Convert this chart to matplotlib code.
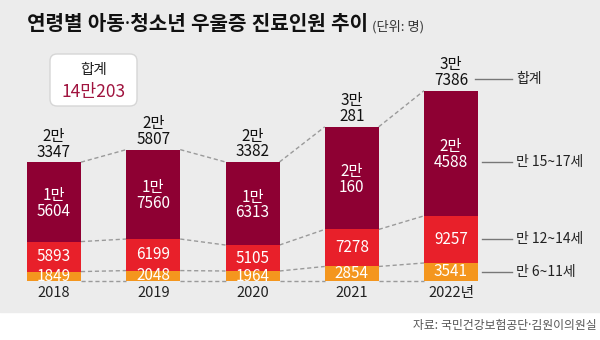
import matplotlib.pyplot as plt
from matplotlib.patches import Rectangle, FancyBboxPatch
from matplotlib.transforms import IdentityTransform

plt.rcParams['font.family'] = ['Noto Sans CJK KR', 'DejaVu Sans']
NARROW_DOT = ['Noto Sans', 'Noto Sans CJK KR']  # half-width "·" in headings

years = ['2018', '2019', '2020', '2021', '2022년']
age_6_11 = [1849, 2048, 1964, 2854, 3541]
age_12_14 = [5893, 6199, 5105, 7278, 9257]
age_15_17 = [15604, 17560, 16313, 20160, 24588]
totals = [23347, 25807, 23382, 30281, 37386]
group_names = ['만 6~11세', '만 12~14세', '만 15~17세', '합계']

CRIMSON = '#8e0033'
RED = '#e8202a'
ORANGE = '#f4961e'
BG = '#ececec'
DASH = '#9a9a9a'


def man(n):
    # 23347 -> '2만\n3347'
    if n >= 10000:
        return f'{n // 10000}만\n{n % 10000}'
    return f'{n}'


W, H = 600, 340
fig = plt.figure(figsize=(W / 100, H / 100), dpi=100)
fig.patch.set_facecolor('white')
ax = fig.add_axes([0, 0, 1, 1])
ax.axis('off')

# pixel geometry of the plot area
step = 99.25          # px between bar centres
x0 = 54               # px of first bar centre
base = 281            # px from top of the zero line
ppp = 0.00509         # px per person
ax.set_xlim(-x0 / step, (W - x0) / step)
ax.set_ylim(-(H - base) / ppp, base / ppp)
ax.add_patch(Rectangle((0, 28 / H), 1, 1, transform=ax.transAxes,
                       color=BG, zorder=0))

w = 54 / step
xs = list(range(len(years)))
low = age_6_11
mid = [a + b for a, b in zip(age_6_11, age_12_14)]
top = [a + b for a, b in zip(mid, age_15_17)]

ax.bar(xs, age_6_11, w, color=ORANGE, zorder=2)
ax.bar(xs, age_12_14, w, bottom=low, color=RED, zorder=2)
ax.bar(xs, age_15_17, w, bottom=mid, color=CRIMSON, zorder=2)

# dashed links between neighbouring bars
for level in ([0] * len(xs), low, mid, top):
    for i in xs[:-1]:
        ax.plot([i + w / 2, i + 1 - w / 2], [level[i], level[i + 1]],
                color=DASH, lw=1, ls=(0, (3, 2)), zorder=1)

pt = 0.72  # points per pixel


def put(x, y, s, dy_px, **kw):
    kw.setdefault('fontsize', 11)
    ax.annotate(s, (x, y), xytext=(0, dy_px * pt), textcoords='offset points',
                ha='center', va='center', zorder=3, linespacing=0.92,
                multialignment='center', **kw)


for i in xs:
    put(i, low[i] / 2, man(age_6_11[i]), 0, color='white')
    put(i, low[i] + age_12_14[i] / 2, man(age_12_14[i]), 0, color='white')
    put(i, mid[i] + age_15_17[i] / 2, man(age_15_17[i]), -1.5, color='white')
    put(i, top[i], man(totals[i]), 18, color='#111111')
    put(i, 0, years[i], -12, color='#222222', fontsize=10.5)

# right-hand legend lines for the last bar
last = xs[-1]
xl_end = (512 - x0) / step
xl_txt = (516 - x0) / step
xl_start = last + w / 2 + 4 / step
legend_y = [
    (low[last] / 2, 0, xl_start),
    (low[last] + age_12_14[last] / 2, 0, xl_start),
    (mid[last] + age_15_17[last] / 2, 9, xl_start),
    (top[last], -12, (475 - x0) / step),
]
for name, (y, off, xs_) in zip(group_names, legend_y):
    yy = y - off / ppp
    ax.plot([xs_, xl_end], [yy, yy], color='#777777', lw=1, zorder=3)
    ax.text(xl_txt, yy, name, ha='left', va='center', fontsize=10,
            color='#222222')

# grand total box
box = FancyBboxPatch((50, H - 106), 87, 52,
                     boxstyle='round,pad=0,rounding_size=7',
                     transform=IdentityTransform(), facecolor='white',
                     edgecolor='#d6d6d6', lw=1, zorder=4)
ax.add_patch(box)
fig.text(93.5 / W, 1 - 70 / H, '합계', ha='center', va='center',
         fontsize=10.5, color='#222222', zorder=5)
fig.text(93.5 / W, 1 - 92 / H, f'{sum(totals) // 10000}만{sum(totals) % 10000}',
         ha='center', va='center', fontsize=12.5, color='#a0143f', zorder=5)

title = fig.text(27 / W, 1 - 25 / H, '연령별 아동·청소년 우울증 진료인원 추이',
                 ha='left', va='center', fontsize=14.5, fontweight='bold',
                 color='#111111', family=NARROW_DOT)
ax.annotate('(단위: 명)', xy=(1, 0.42), xycoords=title, xytext=(3, 0),
            textcoords='offset points', ha='left', va='center',
            fontsize=9.5, color='#333333')
fig.text(597 / W, 1 - 325 / H, '자료: 국민건강보험공단·김원이의원실',
         ha='right', va='center', fontsize=8.5, color='#555555',
         family=NARROW_DOT)

fig.savefig('out.png', dpi=100)
